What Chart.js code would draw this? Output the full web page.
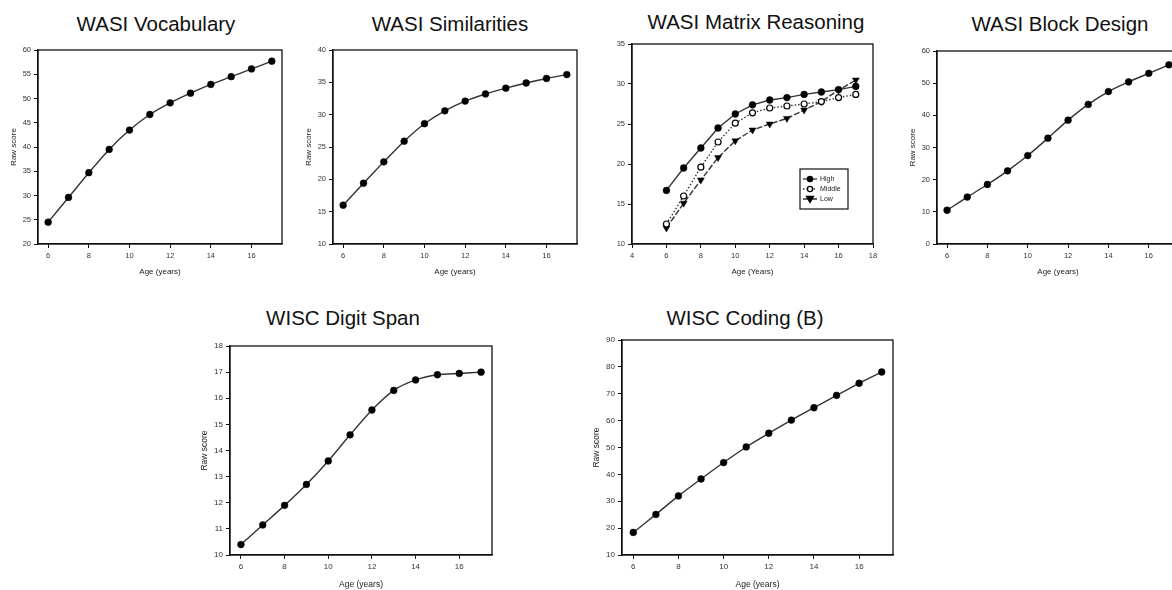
<!DOCTYPE html>
<html>
<head>
<meta charset="utf-8">
<script src="https://cdn.jsdelivr.net/npm/chart.js@4.4.1/dist/chart.umd.min.js"></script>
<style>
body { margin:0; background:#fff; overflow:hidden; width:1172px; height:590px; position:relative;
       font-family:"Liberation Sans", Arial, sans-serif; }
canvas { position:absolute; }
.ttl { position:absolute; font-size:20.5px; line-height:24px; color:#111; white-space:nowrap; transform:translateX(-50%); }
</style>
</head>
<body>
<script>
// ages (years) on every panel
var ages = [6, 7, 8, 9, 10, 11, 12, 13, 14, 15, 16, 17];
var ageTicks = [6, 8, 10, 12, 14, 16];
var matrixAgeTicks = [4, 6, 8, 10, 12, 14, 16, 18];

// raw scores
var vocabulary   = [24.5, 29.6, 34.7, 39.5, 43.5, 46.7, 49.1, 51.1, 52.9, 54.5, 56.1, 57.7];
var similarities = [16.0, 19.4, 22.7, 25.9, 28.6, 30.6, 32.1, 33.2, 34.1, 34.9, 35.6, 36.2];
var matrixHigh   = [16.7, 19.5, 22.0, 24.5, 26.25, 27.4, 28.0, 28.3, 28.7, 29.0, 29.3, 29.7];
var matrixMiddle = [12.5, 16.0, 19.6, 22.75, 25.1, 26.4, 27.0, 27.25, 27.5, 27.8, 28.3, 28.7];
var matrixLow    = [12.0, 15.1, 18.0, 20.8, 22.9, 24.25, 25.0, 25.7, 26.75, 27.8, 29.25, 30.5];
var blockDesign  = [10.5, 14.6, 18.5, 22.75, 27.5, 32.9, 38.5, 43.4, 47.4, 50.4, 53.05, 55.7];
var digitSpan    = [10.4, 11.15, 11.9, 12.7, 13.6, 14.6, 15.55, 16.3, 16.7, 16.9, 16.95, 17.0];
var coding       = [18.4, 25.1, 32.0, 38.3, 44.4, 50.2, 55.3, 60.2, 64.8, 69.4, 73.9, 78.1];

function pts(vals) {
    return ages.map(function (a, i) { return { x: a, y: vals[i] }; });
}

// frame round the plot area
var boxPlugin = {
    id: 'box',
    beforeDatasetsDraw: function (chart) {
        var a = chart.chartArea, ctx = chart.ctx;
        ctx.save();
        ctx.strokeStyle = '#111';
        ctx.lineWidth = 1.3;
        ctx.strokeRect(a.left, a.top, a.right - a.left, a.bottom - a.top);
        ctx.restore();
    }
};

// small boxed legend inside the plot (Matrix Reasoning)
var insideLegend = {
    id: 'insideLegend',
    afterDraw: function (chart, args, opts) {
        if (!opts.show) return;
        var a = chart.chartArea, ctx = chart.ctx;
        var w = 48, h = 40;
        var x = a.right - opts.right - w, y = a.bottom - opts.bottom - h;
        ctx.save();
        ctx.fillStyle = '#fff';
        ctx.fillRect(x, y, w, h);
        ctx.strokeStyle = '#111';
        ctx.lineWidth = 1.2;
        ctx.strokeRect(x, y, w, h);
        chart.data.datasets.forEach(function (ds, i) {
            var cy = y + 10 + i * 10;
            ctx.setLineDash(ds.borderDash || []);
            ctx.strokeStyle = ds.borderColor;
            ctx.lineWidth = 1.3;
            ctx.beginPath();
            ctx.moveTo(x + 3, cy);
            ctx.lineTo(x + 17, cy);
            ctx.stroke();
            ctx.setLineDash([]);
            ctx.fillStyle = ds.pointBackgroundColor;
            ctx.strokeStyle = '#000';
            ctx.beginPath();
            if (ds.pointStyle === 'triangle') {
                ctx.moveTo(x + 6.5, cy - 2.5);
                ctx.lineTo(x + 13.5, cy - 2.5);
                ctx.lineTo(x + 10, cy + 3.5);
                ctx.closePath();
            } else {
                ctx.arc(x + 10, cy, 2.6, 0, Math.PI * 2);
            }
            ctx.fill();
            ctx.stroke();
            ctx.fillStyle = '#222';
            ctx.font = '7px "Liberation Sans", Arial, sans-serif';
            ctx.textBaseline = 'middle';
            ctx.fillText(ds.label, x + 20, cy + 0.5);
        });
        ctx.restore();
    }
};

function lineSet(label, vals) {
    return {
        label: label,
        data: pts(vals),
        borderColor: '#333',
        borderWidth: 1.4,
        tension: 0.25,
        pointRadius: 3.4,
        pointBackgroundColor: '#000',
        pointBorderColor: '#000',
        pointBorderWidth: 0.5
    };
}

function makePanel(p) {
    var L = p.plot[0], T = p.plot[1], R = p.plot[2], B = p.plot[3];
    var W = p.yw, H = p.xh, padTop = 8, padRight = 8;
    var cw = W + (R - L) + padRight, ch = padTop + (B - T) + H;

    var t = document.createElement('div');
    t.className = 'ttl';
    t.textContent = p.title;
    t.style.left = p.tx + 'px';
    t.style.top = p.ty + 'px';
    document.body.appendChild(t);

    var cv = document.createElement('canvas');
    cv.width = cw; cv.height = ch;
    cv.style.left = (L - W) + 'px';
    cv.style.top = (T - padTop) + 'px';
    cv.style.width = cw + 'px';
    cv.style.height = ch + 'px';
    document.body.appendChild(cv);

    var tickFont = { family: '"Liberation Sans", Arial, sans-serif', size: p.tickSize };
    var titleFont = { family: '"Liberation Sans", Arial, sans-serif', size: p.titleSize };
    var grid = { display: true, drawOnChartArea: false, drawTicks: true, tickLength: 4, tickColor: '#111' };
    var border = { display: true, color: '#111', width: 1.3 };

    new Chart(cv.getContext('2d'), {
        type: 'line',
        data: { datasets: p.datasets },
        options: {
            responsive: false,
            animation: false,
            devicePixelRatio: 1,
            layout: { padding: { top: padTop, right: padRight, left: 0, bottom: 0 } },
            scales: {
                x: {
                    type: 'linear',
                    min: p.xmin, max: p.xmax,
                    afterBuildTicks: function (s) {
                        s.ticks = p.xticks.map(function (v) { return { value: v }; });
                    },
                    afterFit: function (s) { s.height = H; },
                    grid: grid, border: border,
                    ticks: { font: tickFont, color: '#333', padding: 3, maxRotation: 0 },
                    title: { display: true, text: p.xtitle, font: titleFont, color: '#222', padding: 4 }
                },
                y: {
                    min: p.ymin, max: p.ymax,
                    ticks: { stepSize: p.ystep, font: tickFont, color: '#333', padding: 3 },
                    afterFit: function (s) { s.width = W; },
                    grid: grid, border: border,
                    title: { display: !!p.ytitle, text: p.ytitle || '', font: titleFont, color: '#222', padding: 4 }
                }
            },
            plugins: {
                legend: { display: false },
                tooltip: { enabled: false },
                insideLegend: p.legend || { show: false }
            }
        },
        plugins: [boxPlugin, insideLegend]
    });
}

var matrixSets = [
    Object.assign(lineSet('High', matrixHigh), { tension: 0 }),
    Object.assign(lineSet('Middle', matrixMiddle), { tension: 0, borderDash: [1.5, 2], pointBackgroundColor: '#fff', pointBorderWidth: 1.2, pointRadius: 3 }),
    Object.assign(lineSet('Low', matrixLow), { tension: 0, borderDash: [6, 2], pointStyle: 'triangle', pointRotation: 180, pointRadius: 4 })
];

var row1 = { yw: 33, xh: 37, tickSize: 7.5, titleSize: 8 };
var row2 = { yw: 34, xh: 39, tickSize: 8, titleSize: 8.5 };

makePanel(Object.assign({}, row1, {
    title: 'WASI Vocabulary', tx: 156, ty: 12, plot: [38, 50, 282, 244],
    xmin: 5.5, xmax: 17.5, xticks: ageTicks, ymin: 20, ymax: 60, ystep: 5,
    xtitle: 'Age (years)', ytitle: 'Raw score', datasets: [lineSet('Vocabulary', vocabulary)]
}));
makePanel(Object.assign({}, row1, {
    title: 'WASI Similarities', tx: 450, ty: 12, plot: [333, 50, 577, 244],
    xmin: 5.5, xmax: 17.5, xticks: ageTicks, ymin: 10, ymax: 40, ystep: 5,
    xtitle: 'Age (years)', ytitle: 'Raw score', datasets: [lineSet('Similarities', similarities)]
}));
makePanel(Object.assign({}, row1, {
    title: 'WASI Matrix Reasoning', tx: 756, ty: 10, plot: [632, 44, 873, 244],
    xmin: 4, xmax: 18, xticks: matrixAgeTicks, ymin: 10, ymax: 35, ystep: 5,
    xtitle: 'Age (Years)', ytitle: null, datasets: matrixSets,
    legend: { show: true, right: 25, bottom: 35 }
}));
makePanel(Object.assign({}, row1, {
    title: 'WASI Block Design', tx: 1060, ty: 12, plot: [937, 51, 1179, 244],
    xmin: 5.5, xmax: 17.5, xticks: ageTicks, ymin: 0, ymax: 60, ystep: 10,
    xtitle: 'Age (years)', ytitle: 'Raw score', datasets: [lineSet('Block Design', blockDesign)]
}));
makePanel(Object.assign({}, row2, {
    title: 'WISC Digit Span', tx: 343, ty: 306, plot: [230, 346, 492, 555],
    xmin: 5.5, xmax: 17.5, xticks: ageTicks, ymin: 10, ymax: 18, ystep: 1,
    xtitle: 'Age (years)', ytitle: 'Raw score', datasets: [lineSet('Digit Span', digitSpan)]
}));
makePanel(Object.assign({}, row2, {
    title: 'WISC Coding (B)', tx: 745, ty: 306, plot: [622, 340, 893, 555],
    xmin: 5.5, xmax: 17.5, xticks: ageTicks, ymin: 10, ymax: 90, ystep: 10,
    xtitle: 'Age (years)', ytitle: 'Raw score', datasets: [lineSet('Coding (B)', coding)]
}));
</script>
</body>
</html>
